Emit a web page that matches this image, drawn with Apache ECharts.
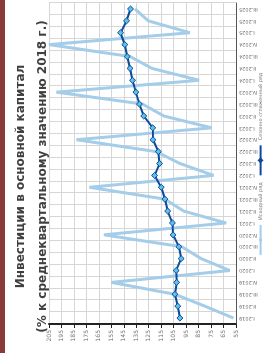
<!DOCTYPE html>
<html>
<head>
<meta charset="utf-8">
<script src="https://cdn.jsdelivr.net/npm/echarts@6/dist/echarts.min.js"></script>
<style>
  html, body { margin: 0; padding: 0; background: #fff; overflow: hidden; }
  #wrap { width: 265px; height: 353px; position: relative; overflow: hidden; }
  /* the chart is drawn lying down, then turned a quarter turn */
  #chart {
    position: absolute; left: 0; top: 0;
    width: 353px; height: 265px;
    transform-origin: 0 0;
    transform: translateY(353px) rotate(-90deg);
  }
</style>
</head>
<body>
<div id="wrap"><div id="chart"></div></div>
<script>
// кварталы
var quarters = ['I.2019', 'II.2019', 'III.2019', 'IV.2019',
  'I.2020', 'II.2020', 'III.2020', 'IV.2020',
  'I.2021', 'II.2021', 'III.2021', 'IV.2021',
  'I.2022', 'II.2022', 'III.2022', 'IV.2022',
  'I.2023', 'II.2023', 'III.2023', 'IV.2023',
  'I.2024', 'II.2024', 'III.2024', 'IV.2024',
  'I.2025', 'II.2025', 'III.2025'];

// исходный ряд
var rawSeries = [57, 80, 104, 155, 60, 83, 98.5, 161,
  63, 97, 112, 172.5, 73, 100, 119, 183,
  74.5, 113, 130, 199, 84.5, 122.5, 140, 205,
  92, 125.4, 136];

// сезонно сглаженный ряд
var sa = [100, 101.7, 104, 102.6, 103, 99, 100.8, 105.5,
  106, 109.8, 112, 115, 120.3, 116.3, 117.3, 121.6,
  121.8, 129, 132.5, 135.3, 138, 140, 142.3, 144.2,
  147.6, 142.8, 139.6];

var valueMin = 55, valueMax = 205, valueStep = 10;

var titleLines = ['Инвестиции в основной капитал',
  '(% к среднеквартальному значению 2018 г.)'];
var legendNames = ['Исходный ряд', 'Сезонно сглаженный ряд'];

var chart = echarts.init(document.getElementById('chart'));
chart.setOption({
  animation: false,
  textStyle: { fontFamily: 'DejaVu Sans' },
  graphic: [{
    type: 'rect',
    shape: { x: 0, y: 0, width: 353, height: 5 },
    style: { fill: '#8a3a3a' }
  }],
  title: {
    text: titleLines.join('\n'),
    left: 'center',
    top: 5,
    textStyle: {
      fontFamily: 'DejaVu Sans',
      fontSize: 12,
      fontWeight: 'bold',
      color: '#404040',
      lineHeight: 22
    }
  },
  legend: {
    data: legendNames,
    top: 253,
    left: 92,
    itemWidth: 30,
    itemHeight: 4,
    itemGap: 6,
    textStyle: { fontSize: 5, color: '#777' }
  },
  grid: { left: 29, right: 3, top: 49, bottom: 29 },
  xAxis: {
    type: 'category',
    data: quarters,
    boundaryGap: true,
    axisLine: { lineStyle: { color: '#555', width: 1 } },
    axisTick: { length: 3, lineStyle: { color: '#555' } },
    axisLabel: { rotate: 90, fontSize: 5, color: '#666', margin: 3, interval: 0 },
    splitLine: { show: true, lineStyle: { color: '#d6d6d6', width: 1 } }
  },
  yAxis: {
    type: 'value',
    min: valueMin,
    max: valueMax,
    interval: valueStep,
    axisLine: { show: true, lineStyle: { color: '#222', width: 2 } },
    axisTick: { show: true, length: 4, lineStyle: { color: '#222' } },
    axisLabel: { fontSize: 6, color: '#777', margin: 6 },
    splitLine: { show: true, lineStyle: { color: '#d6d6d6', width: 1 } }
  },
  series: [
    {
      name: legendNames[0],
      type: 'line',
      data: rawSeries,
      symbol: 'none',
      lineStyle: { color: '#a3cde9', width: 3 },
      itemStyle: { color: '#a3cde9' }
    },
    {
      name: legendNames[1],
      type: 'line',
      data: sa,
      symbol: 'diamond',
      symbolSize: 6,
      lineStyle: { color: '#0b4a9e', width: 2 },
      itemStyle: { color: '#5ec3e2', borderColor: '#0b4a9e', borderWidth: 1 }
    }
  ]
});
</script>
</body>
</html>
